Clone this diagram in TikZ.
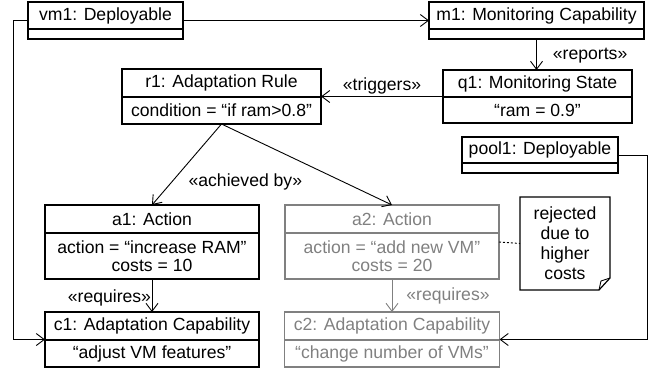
\documentclass[tikz,border=0pt]{standalone}
\usepackage{fontspec}
\setmainfont{Liberation Sans}
\usepackage{tikz}
\usetikzlibrary{arrows.meta,positioning,fit}
\definecolor{umlgray}{RGB}{128,128,128}
\newcommand{\umlfont}{\fontsize{17.6}{18}\selectfont}
\newcommand{\notefont}{\fontsize{17.6}{20}\selectfont}
\tikzset{
  objhead/.style={rectangle, draw, line width=1.2pt, inner sep=0pt, outer sep=0pt, minimum height=27pt, align=center, font=\umlfont},
  objbody/.style={objhead, minimum height=10pt},
  objbox/.style={rectangle, inner sep=0pt, outer sep=0pt},
  greyed/.style={draw=umlgray, text=umlgray},
  link/.style={line width=0.9pt, -{Straight Barb[length=8pt,width=12pt]}},
  stereo/.style={font=\umlfont, inner sep=2pt},
}

\begin{document}
\begin{tikzpicture}[x=1pt, y=-1pt]
\useasboundingbox (0,0) rectangle (657,372);

% objects
\node[objhead, minimum width=155pt, anchor=north west] (vm1h) at (28,2) {vm1: Deployable};
\node[objbody, minimum width=155pt, below=0pt of vm1h] (vm1b) {};
\node[objbox, fit=(vm1h)(vm1b)] (vm1) {};

\node[objhead, minimum width=215pt, anchor=north west] (m1h) at (429,2) {m1: Monitoring Capability};
\node[objbody, minimum width=215pt, below=0pt of m1h] (m1b) {};
\node[objbox, fit=(m1h)(m1b)] (m1) {};

\node[objhead, minimum width=199pt, minimum height=28pt, anchor=north west] (r1h) at (122,69) {r1: Adaptation Rule};
\node[objbody, minimum width=199pt, minimum height=27pt, below=0pt of r1h] (r1b) {condition = “if ram>0.8”};
\node[objbox, fit=(r1h)(r1b)] (r1) {};

\node[objhead, minimum width=189pt, anchor=north west] (q1h) at (443,70) {q1: Monitoring State};
\node[objbody, minimum width=189pt, minimum height=26pt, below=0pt of q1h] (q1b) {“ram = 0.9”};
\node[objbox, fit=(q1h)(q1b)] (q1) {};

\node[objhead, minimum width=156pt, minimum height=26pt, anchor=north west] (pool1h) at (462,137) {pool1: Deployable};
\node[objbody, minimum width=156pt, below=0pt of pool1h] (pool1b) {};
\node[objbox, fit=(pool1h)(pool1b)] (pool1) {};

\node[objhead, minimum width=214pt, minimum height=28pt, anchor=north west] (a1h) at (45,205) {a1: Action};
\node[objbody, minimum width=214pt, minimum height=46pt, below=0pt of a1h] (a1b) {action = “increase RAM”\\costs = 10};
\node[objbox, fit=(a1h)(a1b)] (a1) {};

\node[objhead, greyed, minimum width=214pt, minimum height=28pt, right=26pt of a1h] (a2h) {a2: Action};
\node[objbody, greyed, minimum width=214pt, minimum height=46pt, below=0pt of a2h] (a2b) {action = “add new VM”\\costs = 20};
\node[objbox, fit=(a2h)(a2b)] (a2) {};

\node[objhead, minimum width=214pt, minimum height=28pt, below=33pt of a1b] (c1h) {c1: Adaptation Capability};
\node[objbody, minimum width=214pt, minimum height=27pt, below=0pt of c1h] (c1b) {“adjust VM features”};
\node[objbox, fit=(c1h)(c1b)] (c1) {};

\node[objhead, greyed, minimum width=215pt, minimum height=28pt, below=33pt of a2b] (c2h) {c2: Adaptation Capability};
\node[objbody, greyed, minimum width=215pt, minimum height=27pt, below=0pt of c2h] (c2b) {“change number of VMs”};
\node[objbox, fit=(c2h)(c2b)] (c2) {};

% note
\node[objbox, minimum width=90pt, minimum height=93pt, anchor=north west, align=center, font=\notefont] (note1) at (520,197) {rejected\\due to\\higher\\costs};
\draw[line width=1.2pt] (note1.north west) -- (note1.north east) -- ([yshift=12pt]note1.south east)
  -- ([xshift=-11pt]note1.south east) -- (note1.south west) -- cycle;
\draw[line width=0.9pt] ([yshift=12pt]note1.south east) -- ([xshift=-9pt,yshift=9pt]note1.south east) -- ([xshift=-11pt]note1.south east);

% links
\draw[link] (vm1) -- (m1);
\draw[link] (m1.south) -- (m1.south |- q1.north) node[stereo, pos=0.55, right=14pt] {«reports»};
\draw[link] (q1) -- (r1) node[stereo, midway, above] {«triggers»};
\draw[link] (r1.south) -- (a1.north) node[stereo, pos=0.71, right=14pt] {«achieved by»};
\draw[link] (r1.south) -- (a2.north);
\draw[link] (a1.south) -- (c1.north) node[stereo, midway, left, inner sep=0.5pt, yshift=-2pt] {«requires»};
\draw[link, umlgray] (a2.south) -- (c2.north) node[stereo, midway, right=12pt, text=umlgray] {«requires»};
\draw[link] (vm1.west) -- ++(-15,0) |- (c1.west);
\draw[link] (pool1.east) -- ++(29,0) |- (c2.east);
\draw[line width=0.9pt, dash pattern=on 2pt off 2pt] (a2.east) -- (note1.west);
\end{tikzpicture}
\end{document}
